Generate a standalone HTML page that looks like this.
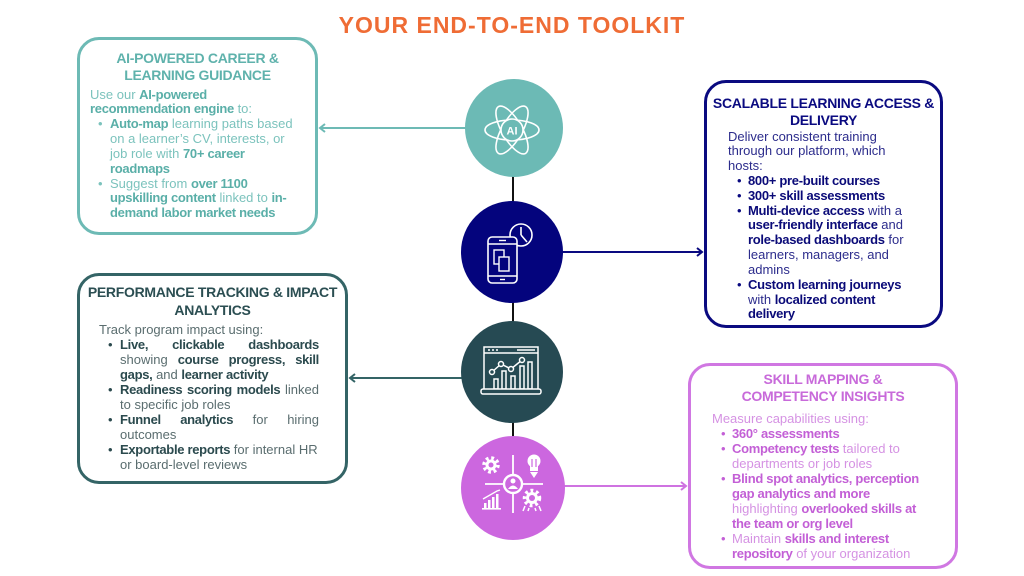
<!DOCTYPE html>
<html><head><meta charset="utf-8">
<style>
html,body{margin:0;padding:0;}
body{width:1024px;height:576px;position:relative;background:#fff;overflow:hidden;font-family:"Liberation Sans",Arial,sans-serif;}
.box{position:absolute;box-sizing:border-box;border-radius:22px;border:3px solid;}
.ttl{position:absolute;font-weight:bold;font-size:14px;letter-spacing:-0.3px;line-height:17px;text-align:center;white-space:nowrap;}
.body{position:absolute;font-size:13px;white-space:nowrap;}
.ln{position:relative;height:15px;line-height:15px;}
b{letter-spacing:-0.3px;}
.bul{position:absolute;top:0;}
.fx{display:flex;justify-content:space-between;}
</style></head><body>

<div style="position:absolute;left:0;top:14px;width:1024px;text-align:center;font-size:23px;line-height:23px;font-weight:bold;letter-spacing:1px;color:#ef6c35;">YOUR END-TO-END TOOLKIT</div>

<svg width="1024" height="576" style="position:absolute;left:0;top:0;">
  <!-- vertical spine -->
  <line x1="513" y1="170" x2="513" y2="440" stroke="#111" stroke-width="2"/>
  <!-- connectors -->
  <line x1="320" y1="128" x2="470" y2="128" stroke="#6dbab5" stroke-width="2"/>
  <polyline points="325,124 320,128 325,132" fill="none" stroke="#6dbab5" stroke-width="2"/>
  <line x1="555" y1="252" x2="702" y2="252" stroke="#0a0a80" stroke-width="2"/>
  <polyline points="697,248 702,252 697,256" fill="none" stroke="#0a0a80" stroke-width="2"/>
  <line x1="350" y1="378" x2="468" y2="378" stroke="#346466" stroke-width="2"/>
  <polyline points="355,374 350,378 355,382" fill="none" stroke="#346466" stroke-width="2"/>
  <line x1="555" y1="486" x2="686" y2="486" stroke="#cf73e1" stroke-width="2"/>
  <polyline points="681,482 686,486 681,490" fill="none" stroke="#cf73e1" stroke-width="2"/>

  <!-- circles -->
  <circle cx="514" cy="128" r="49" fill="#6cbab5"/>
  <circle cx="512" cy="252" r="51" fill="#04047d"/>
  <circle cx="512" cy="372" r="51" fill="#264a53"/>
  <circle cx="513" cy="488" r="52" fill="#cc67df"/>

  <!-- icon 1: atom AI -->
  <g fill="none" stroke="#fff" stroke-width="1.6">
    <ellipse cx="512" cy="130" rx="27" ry="10"/>
    <ellipse cx="512" cy="130" rx="27" ry="10" transform="rotate(60 512 130)"/>
    <ellipse cx="512" cy="130" rx="27" ry="10" transform="rotate(120 512 130)"/>
  </g>
  <circle cx="512" cy="130" r="11" fill="#6cbab5" stroke="#fff" stroke-width="1.6"/>
  <text x="512" y="134.5" text-anchor="middle" font-family="Liberation Sans,sans-serif" font-weight="bold" font-size="11" fill="#fff">AI</text>

  <!-- icon 2: phone + clock -->
  <g fill="none" stroke="#fff" stroke-width="1.6">
    <circle cx="521" cy="235" r="11"/>
    <line x1="521" y1="235" x2="521" y2="227"/>
    <line x1="521" y1="235" x2="527" y2="242"/>
  </g>
  <rect x="488" y="237" width="29" height="46" rx="4" fill="#04047d" stroke="#fff" stroke-width="1.6"/>
  <g fill="none" stroke="#fff" stroke-width="1.4">
    <line x1="488" y1="244" x2="517" y2="244"/>
    <line x1="488" y1="276" x2="517" y2="276"/>
    <line x1="499" y1="240.5" x2="506" y2="240.5"/>
    <line x1="500" y1="279.5" x2="505" y2="279.5"/>
    <rect x="494" y="250" width="10" height="14"/>
    <rect x="499" y="257" width="10" height="14" fill="#04047d"/>
  </g>

  <!-- icon 3: dashboard chart -->
  <g fill="none" stroke="#fff" stroke-width="1.5">
    <rect x="484" y="347" width="54" height="44"/>
    <line x1="484" y1="353" x2="538" y2="353"/>
    <line x1="517" y1="350" x2="535" y2="350"/>
    <polyline points="492,372 501,364 511,369 522,360"/>
    <circle cx="492" cy="372" r="2.5" fill="#264a53"/>
    <circle cx="501" cy="364" r="2.5" fill="#264a53"/>
    <circle cx="511" cy="369" r="2.5" fill="#264a53"/>
    <circle cx="522" cy="360" r="2.5" fill="#264a53"/>
    <rect x="494" y="379" width="4" height="10"/>
    <rect x="502" y="371" width="4" height="18"/>
    <rect x="511" y="376" width="4" height="13"/>
    <rect x="520" y="366" width="4" height="23"/>
    <rect x="528" y="362" width="4" height="27"/>
    <rect x="481" y="389" width="60" height="5" rx="2" fill="#264a53"/>
  </g>
  <g fill="#fff"><circle cx="489" cy="350" r="1"/><circle cx="493" cy="350" r="1"/><circle cx="497" cy="350" r="1"/></g>

  <!-- icon 4: skills -->
  <g stroke="#fff" stroke-width="1.8" fill="none">
    <line x1="513" y1="455" x2="513" y2="513"/>
    <line x1="485" y1="484" x2="543" y2="484"/>
  </g>
  <circle cx="513" cy="484" r="9" fill="#cc67df" stroke="#fff" stroke-width="2.4"/>
  <circle cx="513" cy="481" r="2.5" fill="#fff"/>
  <path d="M508 489 Q513 482 518 489 Z" fill="#fff"/>
  <!-- gear TL -->
  <circle cx="491" cy="465" r="7" fill="none" stroke="#fff" stroke-width="3.5" stroke-dasharray="2.8 2.7"/>
  <circle cx="491" cy="465" r="5.5" fill="#fff"/>
  <circle cx="491" cy="465" r="2.5" fill="#cc67df"/>
  <!-- bulb TR -->
  <circle cx="534" cy="461" r="6.5" fill="#fff"/>
  <rect x="530" y="465" width="8" height="6" fill="#fff"/>
  <path d="M530 472 L538 472 L534 478 Z" fill="#fff"/>
  <line x1="532" y1="459" x2="532" y2="467" stroke="#cc67df" stroke-width="1.2"/>
  <line x1="536" y1="459" x2="536" y2="467" stroke="#cc67df" stroke-width="1.2"/>
  <!-- bars BL -->
  <g fill="#fff">
    <rect x="484" y="503" width="2.5" height="5"/>
    <rect x="488" y="500" width="2.5" height="8"/>
    <rect x="492" y="497" width="2.5" height="11"/>
    <rect x="496" y="494" width="2.5" height="14"/>
    <rect x="482" y="508" width="19" height="1.6"/>
  </g>
  <polyline points="483,499 497,491 500,490" fill="none" stroke="#fff" stroke-width="1.3"/>
  <!-- gear BR -->
  <circle cx="532" cy="498" r="7.5" fill="none" stroke="#fff" stroke-width="3.5" stroke-dasharray="2.8 2.8"/>
  <circle cx="532" cy="498" r="6" fill="#fff"/>
  <circle cx="532" cy="498" r="3" fill="#cc67df"/>
  <path d="M525 506 L523 511 M539 506 L541 511 M529 508 L528 511 M535 508 L536 511" stroke="#fff" stroke-width="1.5"/>
</svg>

<!-- Box 1 -->
<div class="box" style="left:77px;top:37px;width:241px;height:198px;border-color:#6dbab5;"></div>
<div class="ttl" style="left:77px;top:50px;width:241px;color:#5fb2ac;">AI-POWERED CAREER &amp;<br>LEARNING GUIDANCE</div>
<div class="body" style="left:90px;top:87.5px;color:#7cc3bd;">
  <div class="ln" style="height:14.85px;line-height:14.85px">Use our <b style="color:#5aafa8">AI-powered</b></div>
  <div class="ln" style="height:14.85px;line-height:14.85px"><b style="color:#5aafa8">recommendation engine</b> to:</div>
  <div class="ln" style="height:14.85px;line-height:14.85px;padding-left:20px"><span class="bul" style="left:8px">•</span><b style="color:#5aafa8">Auto-map</b> learning paths based</div>
  <div class="ln" style="height:14.85px;line-height:14.85px;padding-left:20px">on a learner’s CV, interests, or</div>
  <div class="ln" style="height:14.85px;line-height:14.85px;padding-left:20px">job role with <b style="color:#5aafa8">70+ career</b></div>
  <div class="ln" style="height:14.85px;line-height:14.85px;padding-left:20px"><b style="color:#5aafa8">roadmaps</b></div>
  <div class="ln" style="height:14.85px;line-height:14.85px;padding-left:20px"><span class="bul" style="left:8px">•</span>Suggest from <b style="color:#5aafa8">over 1100</b></div>
  <div class="ln" style="height:14.85px;line-height:14.85px;padding-left:20px"><b style="color:#5aafa8">upskilling content</b> linked to <b style="color:#5aafa8">in-</b></div>
  <div class="ln" style="height:14.85px;line-height:14.85px;padding-left:20px"><b style="color:#5aafa8">demand labor market needs</b></div>
</div>

<!-- Box 2 -->
<div class="box" style="left:704px;top:80px;width:239px;height:248px;border-color:#0a0a80;"></div>
<div class="ttl" style="left:704px;top:95px;width:239px;color:#0a0a80;">SCALABLE LEARNING ACCESS &amp;<br>DELIVERY</div>
<div class="body" style="left:728px;top:129.5px;color:#2c2c8c;">
  <div class="ln" style="height:14.83px;line-height:14.83px">Deliver consistent training</div>
  <div class="ln" style="height:14.83px;line-height:14.83px">through our platform, which</div>
  <div class="ln" style="height:14.83px;line-height:14.83px">hosts:</div>
  <div class="ln" style="height:14.83px;line-height:14.83px;padding-left:20px"><span class="bul" style="left:9px;color:#0a0a80">•</span><b style="color:#0a0a78">800+ pre-built courses</b></div>
  <div class="ln" style="height:14.83px;line-height:14.83px;padding-left:20px"><span class="bul" style="left:9px;color:#0a0a80">•</span><b style="color:#0a0a78">300+ skill assessments</b></div>
  <div class="ln" style="height:14.83px;line-height:14.83px;padding-left:20px"><span class="bul" style="left:9px;color:#0a0a80">•</span><b style="color:#0a0a78">Multi-device access</b> with a</div>
  <div class="ln" style="height:14.83px;line-height:14.83px;padding-left:20px"><b style="color:#0a0a78">user-friendly interface</b> and</div>
  <div class="ln" style="height:14.83px;line-height:14.83px;padding-left:20px"><b style="color:#0a0a78">role-based dashboards</b> for</div>
  <div class="ln" style="height:14.83px;line-height:14.83px;padding-left:20px">learners, managers, and</div>
  <div class="ln" style="height:14.83px;line-height:14.83px;padding-left:20px">admins</div>
  <div class="ln" style="height:14.83px;line-height:14.83px;padding-left:20px"><span class="bul" style="left:9px;color:#0a0a80">•</span><b style="color:#0a0a78">Custom learning journeys</b></div>
  <div class="ln" style="height:14.83px;line-height:14.83px;padding-left:20px">with <b style="color:#0a0a78">localized content</b></div>
  <div class="ln" style="height:14.83px;line-height:14.83px;padding-left:20px"><b style="color:#0a0a78">delivery</b></div>
</div>

<!-- Box 3 -->
<div class="box" style="left:77px;top:273px;width:271px;height:211px;border-color:#346466;"></div>
<div class="ttl" style="left:77px;top:283px;width:271px;line-height:18px;color:#2b4e52;">PERFORMANCE TRACKING &amp; IMPACT<br>ANALYTICS</div>
<div class="body" style="left:99px;top:321.5px;width:220px;color:#5a6d6f;">
  <div class="ln">Track program impact using:</div>
  <div class="ln" style="padding-left:21px"><span class="bul" style="left:9px;color:#2b4a4e">•</span><div class="fx"><b style="color:#2b4a4e">Live,</b><b style="color:#2b4a4e">clickable</b><b style="color:#2b4a4e">dashboards</b></div></div>
  <div class="ln" style="padding-left:21px"><div class="fx"><span>showing</span><b style="color:#2b4a4e">course</b><b style="color:#2b4a4e">progress,</b><b style="color:#2b4a4e">skill</b></div></div>
  <div class="ln" style="padding-left:21px"><b style="color:#2b4a4e">gaps,</b> and <b style="color:#2b4a4e">learner activity</b></div>
  <div class="ln" style="padding-left:21px"><span class="bul" style="left:9px;color:#2b4a4e">•</span><div class="fx"><b style="color:#2b4a4e">Readiness</b><b style="color:#2b4a4e">scoring</b><b style="color:#2b4a4e">models</b><span>linked</span></div></div>
  <div class="ln" style="padding-left:21px">to specific job roles</div>
  <div class="ln" style="padding-left:21px"><span class="bul" style="left:9px;color:#2b4a4e">•</span><div class="fx"><b style="color:#2b4a4e">Funnel</b><b style="color:#2b4a4e">analytics</b><span>for</span><span>hiring</span></div></div>
  <div class="ln" style="padding-left:21px">outcomes</div>
  <div class="ln" style="padding-left:21px"><span class="bul" style="left:9px;color:#2b4a4e">•</span><b style="color:#2b4a4e">Exportable reports</b> for internal HR</div>
  <div class="ln" style="padding-left:21px">or board-level reviews</div>
</div>

<!-- Box 4 -->
<div class="box" style="left:688px;top:363px;width:270px;height:206px;border-color:#d077e2;"></div>
<div class="ttl" style="left:688px;top:371px;width:270px;color:#c86ada;">SKILL MAPPING &amp;<br>COMPETENCY INSIGHTS</div>
<div class="body" style="left:712px;top:410.5px;color:#d592e3;">
  <div class="ln">Measure capabilities using:</div>
  <div class="ln" style="padding-left:20px"><span class="bul" style="left:9px;color:#c35fd6">•</span><b style="color:#c35fd6">360° assessments</b></div>
  <div class="ln" style="padding-left:20px"><span class="bul" style="left:9px;color:#c35fd6">•</span><b style="color:#c35fd6">Competency tests</b> tailored to</div>
  <div class="ln" style="padding-left:20px">departments or job roles</div>
  <div class="ln" style="padding-left:20px"><span class="bul" style="left:9px;color:#c35fd6">•</span><b style="color:#c35fd6">Blind spot analytics, perception</b></div>
  <div class="ln" style="padding-left:20px"><b style="color:#c35fd6">gap analytics and more</b></div>
  <div class="ln" style="padding-left:20px">highlighting <b style="color:#c35fd6">overlooked skills at</b></div>
  <div class="ln" style="padding-left:20px"><b style="color:#c35fd6">the team or org level</b></div>
  <div class="ln" style="padding-left:20px"><span class="bul" style="left:9px;color:#c35fd6">•</span>Maintain <b style="color:#c35fd6">skills and interest</b></div>
  <div class="ln" style="padding-left:20px"><b style="color:#c35fd6">repository</b> of your organization</div>
</div>

</body></html>
